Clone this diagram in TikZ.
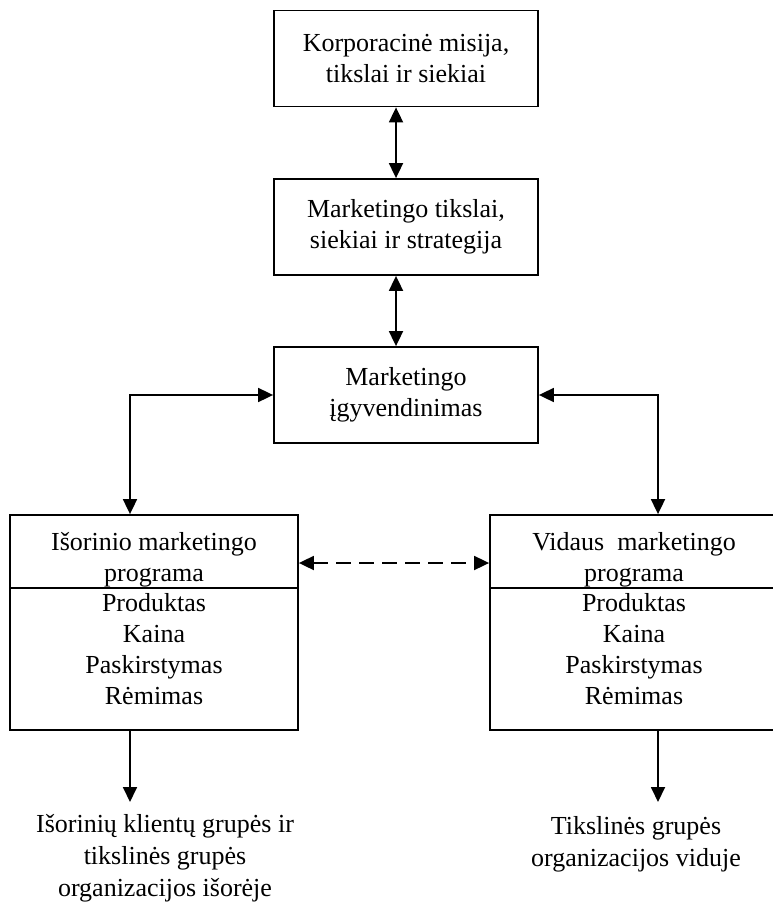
\documentclass[tikz,border=0pt]{standalone}
\usepackage{fontspec}
\setmainfont{Liberation Serif}
\usetikzlibrary{arrows.meta}
\tikzset{
  box/.style={draw, line width=1.8pt, inner sep=0pt, align=center,
    font=\fontsize{26}{31}\selectfont},
  txt/.style={inner sep=0pt, align=center, font=\fontsize{26}{31}\selectfont},
  btxt/.style={inner sep=0pt, align=center, font=\fontsize{26}{32}\selectfont},
  conn/.style={line width=1.8pt},
  tip/.style={-{Triangle[length=15pt,width=14pt]}},
  bitip/.style={{Triangle[length=15pt,width=14pt]}-{Triangle[length=15pt,width=14pt]}},
}
\begin{document}
\begin{tikzpicture}[x=1pt,y=-1pt]
\useasboundingbox (0,0) rectangle (772,904);
% top chain
\node[box, minimum width=264pt, minimum height=96pt] (b1) at (406,58.5)
  {Korporacinė misija,\\tikslai ir siekiai};
\node[box, minimum width=264pt, minimum height=96pt] (b2) at (406,227)
  {Marketingo tikslai,\\siekiai ir strategija};
\node[box, minimum width=264pt, minimum height=96pt] (b3) at (406,395)
  {Marketingo\\įgyvendinimas};
% bottom boxes
\node[box, minimum width=288pt, minimum height=215pt] (lbox) at (154,622.5) {};
\node[box, minimum width=288pt, minimum height=215pt] (rbox) at (634,622.5) {};
\coordinate (dv) at (0,588);
\draw[conn] (lbox.west |- dv) -- (lbox.east |- dv);
\draw[conn] (rbox.west |- dv) -- (rbox.east |- dv);
% multi-line nodes: base anchor is the baseline of the last line
\node[txt, anchor=base] (lhead) at (154,581) {Išorinio marketingo\\programa};
\node[txt, anchor=base] (llist) at (154,704) {Produktas\\Kaina\\Paskirstymas\\Rėmimas};
\node[txt, anchor=base] (rhead) at (634,581) {Vidaus\ \ marketingo\\programa};
\node[txt, anchor=base] (rlist) at (634,704) {Produktas\\Kaina\\Paskirstymas\\Rėmimas};
% bottom texts
\node[btxt, anchor=base] (ltext) at (165,896)
  {Išorinių klientų grupės ir\\tikslinės grupės\\organizacijos išorėje};
\node[btxt, anchor=base] (rtext) at (636,866)
  {Tikslinės grupės\\organizacijos viduje};
% helper coordinates
\coordinate (xa) at (396,0);
\coordinate (lx) at (130,0);
\coordinate (rx) at (658,0);
\coordinate (dy) at (0,563);
\coordinate (lend) at (130,802);
\coordinate (rend) at (658,802);
% connectors
\draw[conn, bitip] (b1.south -| xa) -- (b2.north -| xa);
\draw[conn, bitip] (b2.south -| xa) -- (b3.north -| xa);
\draw[conn, bitip] (b3.west) -| (lbox.north -| lx);
\draw[conn, bitip] (b3.east) -| (rbox.north -| rx);
\draw[conn, bitip, dash pattern=on 15pt off 8pt] (lbox.east |- dy) -- (rbox.west |- dy);
\draw[conn, tip] (lbox.south -| lx) -- (lend);
\draw[conn, tip] (rbox.south -| rx) -- (rend);
\end{tikzpicture}
\end{document}
